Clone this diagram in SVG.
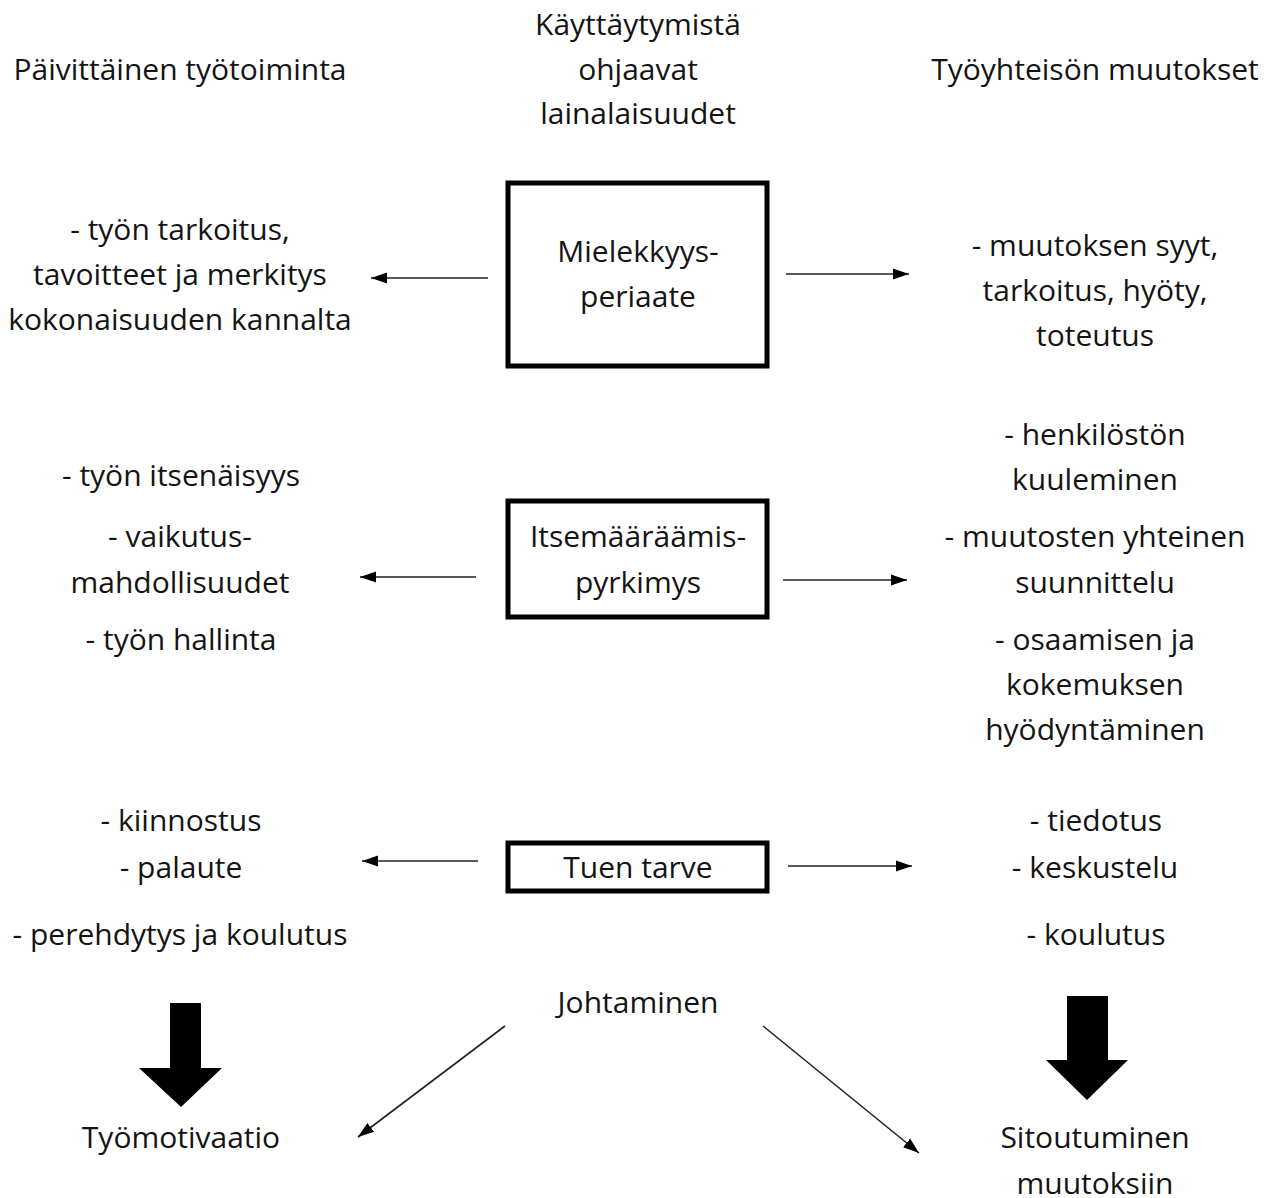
<svg xmlns="http://www.w3.org/2000/svg" width="1276" height="1198" viewBox="0 0 1276 1198">
  <style>
    text { font-family: "Open Sans", "Noto Sans", "Liberation Sans", sans-serif; font-size: 30px; fill: #141414; text-anchor: middle; }
    .box { fill: #fff; stroke: #000; stroke-width: 5; }
    .conn { stroke: #222; stroke-width: 1.6; fill: none; marker-end: url(#head); }
    .big { fill: #000; }
  </style>
  <defs>
    <marker id="head" viewBox="0 0 10 10" refX="10" refY="5" markerWidth="16" markerHeight="16" markerUnits="userSpaceOnUse" orient="auto">
      <path d="M0,1.5 L10,5 L0,8.5 Z" fill="#000"/>
    </marker>
    <marker id="headL" viewBox="0 0 10 10" refX="10" refY="5" markerWidth="20" markerHeight="20" markerUnits="userSpaceOnUse" orient="auto">
      <path d="M0,1.5 L10,5 L0,8.5 Z" fill="#000"/>
    </marker>
  </defs>

  <rect width="1276" height="1198" fill="#fff"/>

  <!-- column headings -->
  <g id="heading-left"><text x="180" y="80">Päivittäinen työtoiminta</text></g>
  <g id="heading-center">
    <text x="638" y="35">Käyttäytymistä</text>
    <text x="638" y="80">ohjaavat</text>
    <text x="638" y="124">lainalaisuudet</text>
  </g>
  <g id="heading-right"><text x="1095" y="80">Työyhteisön muutokset</text></g>

  <!-- row 1 -->
  <g id="meaning-daily">
    <text x="180" y="240">- työn tarkoitus,</text>
    <text x="180" y="285">tavoitteet ja merkitys</text>
    <text x="180" y="330">kokonaisuuden kannalta</text>
  </g>
  <g id="meaning">
    <rect class="box" x="508" y="183" width="259" height="183"/>
    <text x="638" y="262">Mielekkyys-</text>
    <text x="638" y="307">periaate</text>
  </g>
  <g id="meaning-change">
    <text x="1095" y="256">- muutoksen syyt,</text>
    <text x="1095" y="301">tarkoitus, hyöty,</text>
    <text x="1095" y="346">toteutus</text>
  </g>

  <!-- row 2 -->
  <g id="autonomy-daily">
    <text x="181" y="486">- työn itsenäisyys</text>
    <text x="180" y="547">- vaikutus-</text>
    <text x="180" y="593">mahdollisuudet</text>
    <text x="181" y="650">- työn hallinta</text>
  </g>
  <g id="autonomy">
    <rect class="box" x="508" y="501" width="259" height="116"/>
    <text x="638" y="547">Itsemääräämis-</text>
    <text x="638" y="593">pyrkimys</text>
  </g>
  <g id="autonomy-change">
    <text x="1095" y="445">- henkilöstön</text>
    <text x="1095" y="490">kuuleminen</text>
    <text x="1095" y="547">- muutosten yhteinen</text>
    <text x="1095" y="593">suunnittelu</text>
    <text x="1095" y="650">- osaamisen ja</text>
    <text x="1095" y="695">kokemuksen</text>
    <text x="1095" y="740">hyödyntäminen</text>
  </g>

  <!-- row 3 -->
  <g id="support-daily">
    <text x="181" y="831">- kiinnostus</text>
    <text x="181" y="878">- palaute</text>
    <text x="180" y="945">- perehdytys ja koulutus</text>
  </g>
  <g id="support">
    <rect class="box" x="508" y="843" width="259" height="48"/>
    <text x="638" y="878">Tuen tarve</text>
  </g>
  <g id="support-change">
    <text x="1096" y="831">- tiedotus</text>
    <text x="1095" y="878">- keskustelu</text>
    <text x="1096" y="945">- koulutus</text>
  </g>

  <!-- outcomes -->
  <g id="leadership"><text x="638" y="1013">Johtaminen</text></g>
  <g id="motivation"><text x="181" y="1148">Työmotivaatio</text></g>
  <g id="commitment">
    <text x="1095" y="1148">Sitoutuminen</text>
    <text x="1095" y="1194">muutoksiin</text>
  </g>

  <!-- connectors -->
  <g id="connectors">
    <line class="conn" x1="488" y1="278" x2="371" y2="278"/>
    <line class="conn" x1="786" y1="274" x2="909" y2="274"/>
    <line class="conn" x1="476" y1="577" x2="360" y2="577"/>
    <line class="conn" x1="783" y1="580" x2="907" y2="580"/>
    <line class="conn" x1="478" y1="861" x2="362" y2="861"/>
    <line class="conn" x1="788" y1="866" x2="912" y2="866"/>
    <line class="conn" x1="505" y1="1026" x2="358" y2="1137" marker-end="url(#headL)"/>
    <line class="conn" x1="763" y1="1026" x2="919" y2="1153" marker-end="url(#headL)"/>
    <path class="big" d="M170,1003 H201 V1068 H222 L181,1107 L139,1068 H170 Z"/>
    <path class="big" d="M1067,996 H1108 V1060 H1128 L1087,1100 L1046,1060 H1067 Z"/>
  </g>
</svg>
